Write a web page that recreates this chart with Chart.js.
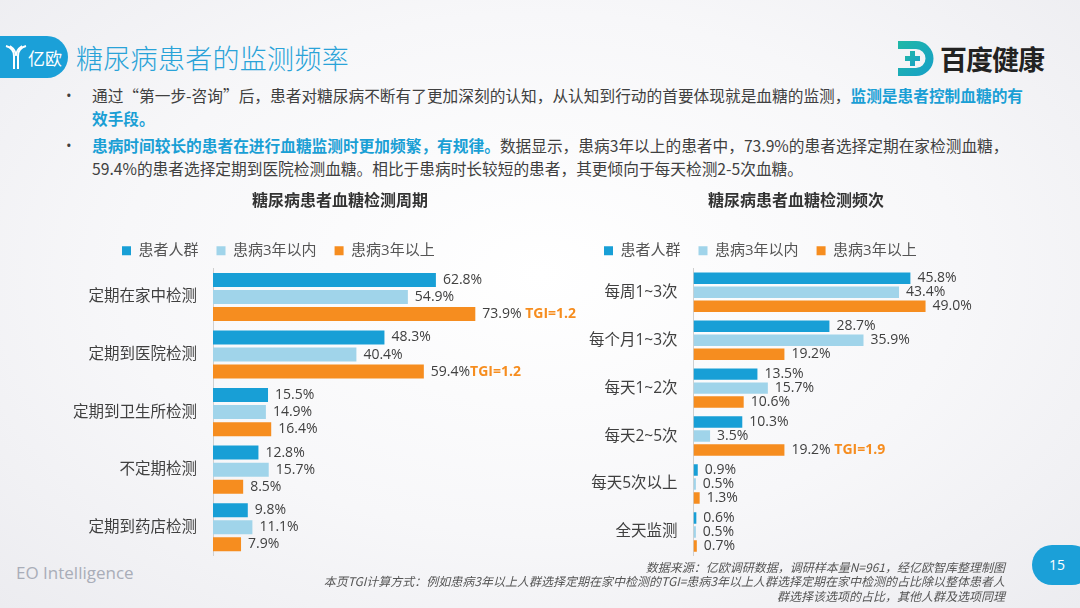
<!DOCTYPE html>
<html>
<head>
<meta charset="utf-8">
<script src="https://cdn.jsdelivr.net/npm/chart.js@4"></script>
<style>
  html, body { margin: 0; padding: 0; }
  body {
    width: 1080px; height: 608px; position: relative; overflow: hidden;
    background: radial-gradient(ellipse at 50% 45%, #ffffff 0%, #f7f7f9 55%, #ececf0 100%);
    font-family: "Open Sans", "Noto Sans CJK SC", sans-serif;
    color: #404040;
  }
  .abs { position: absolute; }
  .tag {
    left: 0; top: 36px; width: 68px; height: 42px; background: #1ba0d8;
    border-radius: 0 21px 21px 0;
  }
  .tag span { position: absolute; left: 28px; top: 9px; color: #fff; font-size: 17px; font-family: "Noto Sans CJK SC"; }
  .title { left: 76px; top: 38px; font-size: 27px; color: #2aa3d8; font-family: "Noto Sans CJK SC"; font-weight: 300; white-space: nowrap; letter-spacing: 0.3px; }
  .bd { left: 940px; top: 39px; font-size: 27px; font-weight: bold; color: #222; font-family: "Noto Sans CJK SC"; letter-spacing: -1px; }
  .txt { font-size: 15.7px; line-height: 23px; white-space: nowrap; font-family: "Noto Sans CJK SC"; }
  .hl { color: #1a9fd5; font-weight: bold; }
  .dot { font-size: 15px; }
  .eo { left: 16px; top: 561px; font-size: 17px; color: #a9adb8; font-family: "Open Sans"; }
  .src { right: 75px; font-size: 12px; font-style: italic; color: #555; text-align: right; white-space: nowrap; font-family: "Noto Sans CJK SC"; line-height: 15px; }
  .pg { left: 1032px; top: 545px; width: 60px; height: 40px; background: #1ba0d8; border-radius: 20px; color: #fff; font-size: 14px; }
  .pg span { position: absolute; left: 17px; top: 10px; }
  .box { position: absolute; }
</style>
</head>
<body>
<div class="abs tag">
  <svg class="abs" style="left:5px;top:8px" width="22" height="26" viewBox="0 0 22 26">
    <path d="M1 2 Q9 4 9 12 L9 25" stroke="#fff" stroke-width="2" fill="none"/>
    <path d="M21 2 Q13 4 13 12 L13 25" stroke="#fff" stroke-width="2" fill="none"/>
    <path d="M5 2 Q11 6 11 12 Q11 6 17 2" stroke="#fff" stroke-width="1.6" fill="none"/>
  </svg>
  <span>亿欧</span>
</div>
<div class="abs title">糖尿病患者的监测频率</div>
<svg class="abs" style="left:896px;top:41px" width="40" height="35" viewBox="0 0 40 35">
  <defs><linearGradient id="g" x1="0" x2="1" y1="0" y2="1"><stop offset="0" stop-color="#20b8a6"/><stop offset="1" stop-color="#169fc9"/></linearGradient></defs>
  <path d="M2 0 H20 A17.5 17.5 0 0 1 20 35 H2 V27 H20 A9.5 9.5 0 0 0 20 8 H2 Z" fill="url(#g)"/>
  <path d="M13 12 H18 V7 H23 V12 H28 V17 H23 V22 H18 V17 H13 Z" transform="translate(-4,3)" fill="url(#g)"/>
</svg>
<div class="abs bd">百度健康</div>

<div class="abs dot" style="left:66px;top:85px">•</div>
<div class="abs txt" style="left:92px;top:84px">通过“第一步-咨询”后，患者对糖尿病不断有了更加深刻的认知，从认知到行动的首要体现就是血糖的监测，<span class="hl">监测是患者控制血糖的有</span><br><span class="hl">效手段。</span></div>
<div class="abs dot" style="left:66px;top:135px">•</div>
<div class="abs txt" style="left:92px;top:134px"><span class="hl">患病时间较长的患者在进行血糖监测时更加频繁，有规律。</span>数据显示，患病3年以上的患者中，73.9%的患者选择定期在家检测血糖，<br>59.4%的患者选择定期到医院检测血糖。相比于患病时长较短的患者，其更倾向于每天检测2-5次血糖。</div>

<div class="box" style="left:0;top:190px;width:620px;height:366px"><canvas id="left"></canvas></div>
<div class="box" style="left:570px;top:190px;width:510px;height:366px"><canvas id="right"></canvas></div>

<div class="abs eo">EO Intelligence</div>
<div class="abs src" style="top:559px">数据来源：亿欧调研数据，调研样本量N=961，经亿欧智库整理制图</div>
<div class="abs src" style="top:573px">本页TGI计算方式：例如患病3年以上人群选择定期在家中检测的TGI=患病3年以上人群选择定期在家中检测的占比除以整体患者人</div>
<div class="abs src" style="top:588px">群选择该选项的占比，其他人群及选项同理</div>
<div class="abs pg"><span>15</span></div>

<script>
// data
const seriesNames = ['患者人群', '患病3年以内', '患病3年以上'];
const seriesColors = ['#189fd6', '#a0d4ea', '#f68d1f'];

const cycleCats = ['定期在家中检测', '定期到医院检测', '定期到卫生所检测', '不定期检测', '定期到药店检测'];
const cycleAll = [62.8, 48.3, 15.5, 12.8, 9.8];
const cycleShort = [54.9, 40.4, 14.9, 15.7, 11.1];
const cycleLong = [73.9, 59.4, 16.4, 8.5, 7.9];
const cycleTgi = [' TGI=1.2', 'TGI=1.2', null, null, null];

const freqCats = ['每周1~3次', '每个月1~3次', '每天1~2次', '每天2~5次', '每天5次以上', '全天监测'];
const freqAll = [45.8, 28.7, 13.5, 10.3, 0.9, 0.6];
const freqShort = [43.4, 35.9, 15.7, 3.5, 0.5, 0.5];
const freqLong = [49.0, 19.2, 10.6, 19.2, 1.3, 0.7];
const freqTgi = [null, null, null, ' TGI=1.9', null, null];

const valueLabels = {
  id: 'valueLabels',
  afterLayout(chart, args, opts) {
    // legend starts further right than the y labels
    chart.legend.left += opts.legendShift || 0;
  },
  afterDatasetsDraw(chart) {
    const ctx = chart.ctx;
    ctx.save();
    ctx.textBaseline = 'middle';
    ctx.textAlign = 'left';
    chart.data.datasets.forEach((ds, i) => {
      chart.getDatasetMeta(i).data.forEach((bar, j) => {
        const txt = ds.data[j].toFixed(1) + '%';
        ctx.font = '14px "Open Sans", "Noto Sans CJK SC"';
        ctx.fillStyle = '#404040';
        const x = bar.x + 7;
        ctx.fillText(txt, x, bar.y);
        const tgi = ds.tgi && ds.tgi[j];
        if (tgi) {
          const w = ctx.measureText(txt).width;
          ctx.font = 'bold 14px "Open Sans", "Noto Sans CJK SC"';
          ctx.fillStyle = '#f68d1f';
          ctx.fillText(tgi, x + w, bar.y);
        }
      });
    });
    ctx.restore();
  }
};

function makeChart(id, title, cats, all, short, long, tgi, opt) {
  return new Chart(document.getElementById(id), {
    type: 'bar',
    data: {
      labels: cats,
      datasets: [
        { label: seriesNames[0], data: all, backgroundColor: seriesColors[0] },
        { label: seriesNames[1], data: short, backgroundColor: seriesColors[1] },
        { label: seriesNames[2], data: long, backgroundColor: seriesColors[2], tgi: tgi }
      ]
    },
    options: {
      indexAxis: 'y',
      responsive: true,
      maintainAspectRatio: false,
      animation: false,
      categoryPercentage: opt.cat,
      barPercentage: opt.bar,
      layout: { padding: { left: opt.pl, right: opt.pr, top: 0, bottom: 0 } },
      plugins: {
        title: {
          display: true, text: title, color: '#333',
          font: { size: 16, weight: 'bold', family: '"Noto Sans CJK SC"' },
          padding: { top: 0, bottom: 16 }
        },
        legend: {
          align: 'start',
          labels: {
            boxWidth: 9, boxHeight: 9, padding: 18, color: '#555',
            font: { size: 15, family: '"Open Sans", "Noto Sans CJK SC"' }
          }
        },
        tooltip: { enabled: false },
        valueLabels: { legendShift: opt.shift }
      },
      scales: {
        x: { display: false, min: 0, max: opt.max },
        y: {
          grid: { display: false, drawTicks: false },
          border: { display: true, color: '#d0d0d0' },
          ticks: { padding: 16, color: '#404040', font: { size: 15.5, family: '"Open Sans", "Noto Sans CJK SC"' } },
          afterFit(scale) {
            scale.width = opt.yw;
            scale.paddingTop = 0;
            scale.paddingBottom = 0;
          }
        }
      }
    },
    plugins: [valueLabels]
  });
}

makeChart('left', '糖尿病患者血糖检测周期', cycleCats, cycleAll, cycleShort, cycleLong, cycleTgi,
  { pl: 62, pr: 2, yw: 151, shift: 42, max: 114.1, cat: 0.89, bar: 0.82 });
makeChart('right', '糖尿病患者血糖检测频次', freqCats, freqAll, freqShort, freqLong, freqTgi,
  { pl: 6, pr: 64, yw: 117.5, shift: 10, max: 68.1, cat: 0.875, bar: 0.82 });
</script>
</body>
</html>
